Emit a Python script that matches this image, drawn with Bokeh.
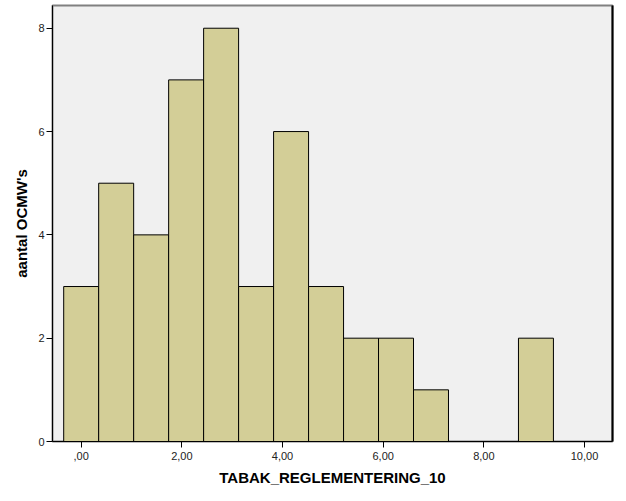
from bokeh.plotting import figure
from bokeh.models import Range1d, FixedTicker, LinearAxis, ColumnDataSource
from bokeh.embed import file_html
from bokeh.resources import INLINE

# histogram data (bin centres, bin width, counts)
bin_width = 0.695
bin_centers = [i * bin_width for i in range(14)]
counts = [3, 5, 4, 7, 8, 3, 6, 3, 2, 2, 1, 0, 0, 2]
x_ticks = [0, 2, 4, 6, 8, 10]
x_tick_labels = {0: ",00", 2: "2,00", 4: "4,00", 6: "6,00", 8: "8,00", 10: "10,00"}
y_ticks = [0, 2, 4, 6, 8]

src = ColumnDataSource(dict(x=bin_centers, top=counts))

p = figure(width=626, height=501, output_backend="svg", toolbar_location=None,
           x_range=Range1d(-0.57, 10.556), y_range=Range1d(0, 8.44),
           min_border_left=52, min_border_right=14, min_border_top=5, min_border_bottom=60)
p.background_fill_color = "#F0F0F0"
p.border_fill_color = "white"
p.outline_line_color = "#808080"
p.outline_line_width = 2
p.grid.visible = False

p.vbar(x="x", top="top", width=bin_width, bottom=0, source=src,
       fill_color="#D3CE97", line_color="black", line_width=1)

for ax in (p.xaxis[0], p.yaxis[0]):
    ax.axis_line_color = "black"
    ax.major_tick_line_color = "black"
    ax.minor_tick_line_color = None
    ax.major_tick_in = 0
    ax.major_tick_out = 6
    ax.major_label_text_font = "Liberation Sans"
    ax.major_label_text_font_size = "11px"
    ax.major_label_text_color = "#222222"
    ax.axis_label_text_font = "Liberation Sans"
    ax.axis_label_text_font_size = "15px"
    ax.axis_label_text_font_style = "bold"
    ax.axis_label_text_color = "black"

p.xaxis.ticker = FixedTicker(ticks=x_ticks)
p.xaxis.major_label_overrides = x_tick_labels
p.xaxis.axis_label = "TABAK_REGLEMENTERING_10"
p.xaxis.major_label_standoff = 4
p.xaxis.axis_label_standoff = 6

p.yaxis.ticker = FixedTicker(ticks=y_ticks)
p.yaxis.axis_label = "aantal OCMW's"
p.yaxis.major_label_standoff = 2
p.yaxis.axis_label_standoff = 5

right = LinearAxis(ticker=FixedTicker(ticks=[]), major_tick_line_color=None,
                   minor_tick_line_color=None, major_label_text_font_size="0px",
                   axis_line_color="black", axis_line_width=2)
p.add_layout(right, "right")

open("out.html", "w").write(file_html(p, INLINE))
